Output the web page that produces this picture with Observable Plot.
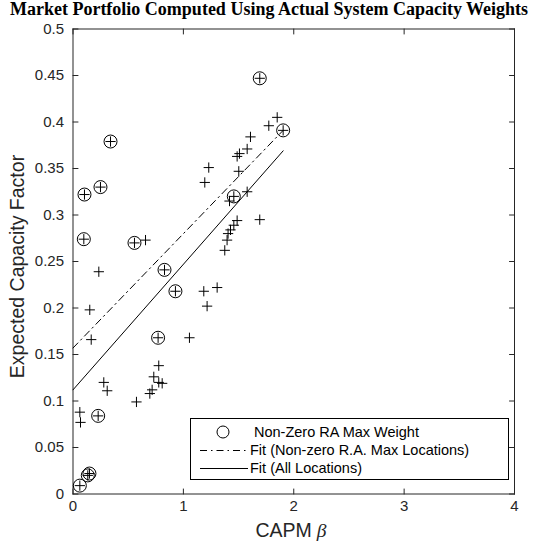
<!DOCTYPE html>
<html>
<head>
<meta charset="utf-8">
<script src="https://cdn.jsdelivr.net/npm/d3@7"></script>
<script src="https://cdn.jsdelivr.net/npm/@observablehq/plot@0.6"></script>
<style>
  html, body { margin: 0; padding: 0; background: #fff; }
  #wrap { position: relative; width: 534px; height: 545px; }
  #title { height: 20px; font: bold 18px "Liberation Serif", "Times New Roman", serif; text-align: center; line-height: 19px; padding-left: 4px; color: #000; white-space: nowrap; }
  #chart { position: absolute; left: 0; top: 20px; }
  #legend { position: absolute; left: 190px; top: 418px; width: 317px; height: 60px; border: 1px solid #000; background: #fff; font: 14.5px "Liberation Sans", Arial, sans-serif; color: #000; }
  .row { position: absolute; left: 0; height: 18px; line-height: 18px; white-space: nowrap; }
  .row svg { position: absolute; top: 0; }
  .row span { position: absolute; top: 0; }
</style>
</head>
<body>
<div id="wrap">
  <div id="title">Market Portfolio Computed Using Actual System Capacity Weights</div>
  <div id="chart"></div>
  <div id="legend"></div>
</div>
<script>
// All locations: CAPM beta and expected capacity factor
const betaAll = [
  0.062, 0.134, 0.149, 0.228, 0.098, 0.104, 0.249, 0.340, 0.557, 0.829, 0.928, 0.771, 1.457, 1.692, 1.904,
  0.062, 0.068, 0.279, 0.310, 0.575, 0.165, 0.152, 0.234, 0.657, 0.696, 0.717, 0.732, 0.777, 0.777, 0.808,
  1.055, 1.185, 1.215, 1.306, 1.194, 1.230, 1.375, 1.396, 1.405, 1.427, 1.457, 1.487, 1.418, 1.578, 1.502,
  1.487, 1.508, 1.578, 1.608, 1.692, 1.774, 1.850
];
const cfAll = [
  0.009, 0.020, 0.022, 0.084, 0.274, 0.322, 0.330, 0.379, 0.270, 0.241, 0.218, 0.168, 0.320, 0.447, 0.391,
  0.088, 0.077, 0.120, 0.111, 0.099, 0.166, 0.198, 0.239, 0.273, 0.108, 0.112, 0.126, 0.138, 0.120, 0.119,
  0.168, 0.218, 0.202, 0.222, 0.335, 0.351, 0.262, 0.273, 0.280, 0.284, 0.289, 0.294, 0.315, 0.325, 0.347,
  0.363, 0.366, 0.371, 0.384, 0.295, 0.396, 0.405
];

// Locations with a non-zero risk-adjusted max weight
const betaRA = [0.062, 0.134, 0.149, 0.228, 0.098, 0.104, 0.249, 0.340, 0.557, 0.829, 0.928, 0.771, 1.457, 1.692, 1.904];
const cfRA   = [0.009, 0.020, 0.022, 0.084, 0.274, 0.322, 0.330, 0.379, 0.270, 0.241, 0.218, 0.168, 0.320, 0.447, 0.391];

// Linear fits (endpoints over the beta range)
const fitBeta = [0, 1.904];
const fitRA   = [0.157, 0.391];
const fitAll  = [0.112, 0.369];

// Tick values and labels
const xTicks = [0, 1, 2, 3, 4];
const xTickLabels = ["0", "1", "2", "3", "4"];
const yTicks = [0, 0.05, 0.1, 0.15, 0.2, 0.25, 0.3, 0.35, 0.4, 0.45, 0.5];
const yTickLabels = ["0", "0.05", "0.1", "0.15", "0.2", "0.25", "0.3", "0.35", "0.4", "0.45", "0.5"];

const allPts = betaAll.map((b, i) => ({beta: b, cf: cfAll[i]}));
const raPts = betaRA.map((b, i) => ({beta: b, cf: cfRA[i]}));
const fitRAPts = fitBeta.map((b, i) => ({beta: b, cf: fitRA[i]}));
const fitAllPts = fitBeta.map((b, i) => ({beta: b, cf: fitAll[i]}));

const axisColor = "#262626";
const dashDot = "7,4,1.5,4";
// inward tick shape for the box axes
const tickShape = {draw(ctx, l) { ctx.moveTo(0, 0); ctx.lineTo(0, -l); }};
const tickLen = 5;

const chart = Plot.plot({
  width: 534,
  height: 525,
  marginLeft: 72.5,
  marginRight: 20,
  marginTop: 8.5,
  marginBottom: 51.5,
  x: {domain: [0, 4]},
  y: {domain: [0, 0.5]},
  style: {fontFamily: "'Liberation Sans', Arial, sans-serif", color: axisColor, background: "#fff", overflow: "visible"},
  marks: [
    Plot.axisX(xTicks, {tickSize: 0, tickPadding: 6, fontSize: 15, label: null, tickFormat: (d, i) => xTickLabels[i], fill: axisColor}),
    Plot.axisY(yTicks, {tickSize: 0, tickPadding: 9, fontSize: 15, label: null, tickFormat: (d, i) => yTickLabels[i], fill: axisColor}),
    // inward ticks on all four sides
    Plot.vector(xTicks, {x: d => d, y: 0, length: tickLen, rotate: 0, anchor: "start", shape: tickShape, stroke: axisColor, strokeWidth: 1}),
    Plot.vector(xTicks, {x: d => d, y: 0.5, length: tickLen, rotate: 180, anchor: "start", shape: tickShape, stroke: axisColor, strokeWidth: 1}),
    Plot.vector(yTicks, {x: 0, y: d => d, length: tickLen, rotate: 90, anchor: "start", shape: tickShape, stroke: axisColor, strokeWidth: 1}),
    Plot.vector(yTicks, {x: 4, y: d => d, length: tickLen, rotate: -90, anchor: "start", shape: tickShape, stroke: axisColor, strokeWidth: 1}),
    Plot.frame({stroke: axisColor, strokeWidth: 1}),
    Plot.line(fitRAPts, {x: "beta", y: "cf", stroke: "#000", strokeWidth: 1, strokeDasharray: dashDot}),
    Plot.line(fitAllPts, {x: "beta", y: "cf", stroke: "#000", strokeWidth: 1}),
    Plot.dot(allPts, {x: "beta", y: "cf", symbol: "plus", r: 3.4, stroke: "#000", strokeWidth: 1}),
    Plot.dot(raPts, {x: "beta", y: "cf", symbol: "circle", r: 6.5, stroke: "#000", fill: "none", strokeWidth: 1}),
    // axis titles
    Plot.text(["CAPM"], {frameAnchor: "bottom", dy: 36.5, dx: 18, textAnchor: "end", lineAnchor: "middle", fontSize: 19.5, fill: axisColor}),
    Plot.text(["\u03b2"], {frameAnchor: "bottom", dy: 36.5, dx: 23, textAnchor: "start", lineAnchor: "middle", fontSize: 19.5, fontStyle: "italic", fontFamily: "'Liberation Serif', serif", fill: axisColor}),
    Plot.text(["Expected Capacity Factor"], {frameAnchor: "left", dx: -55.5, dy: 5, rotate: -90, textAnchor: "middle", lineAnchor: "middle", fontSize: 19.5, fill: axisColor})
  ]
});
document.getElementById("chart").appendChild(chart);

// legend
const legend = document.getElementById("legend");
legend.innerHTML = `
  <div class="row" style="top:4px;width:317px">
    <svg width="60" height="18" style="left:20px"><circle cx="12" cy="9" r="6" fill="none" stroke="#000" stroke-width="1"/></svg>
    <span style="left:63px">Non-Zero RA Max Weight</span>
  </div>
  <div class="row" style="top:22px;width:317px">
    <svg width="60" height="18" style="left:9px"><line x1="0" y1="9.5" x2="48" y2="9.5" stroke="#000" stroke-width="1" stroke-dasharray="${dashDot}"/></svg>
    <span style="left:59px">Fit (Non-zero R.A. Max Locations)</span>
  </div>
  <div class="row" style="top:40px;width:317px">
    <svg width="60" height="18" style="left:9px"><line x1="0" y1="9.5" x2="48" y2="9.5" stroke="#000" stroke-width="1"/></svg>
    <span style="left:59px">Fit (All Locations)</span>
  </div>`;
</script>
</body>
</html>
